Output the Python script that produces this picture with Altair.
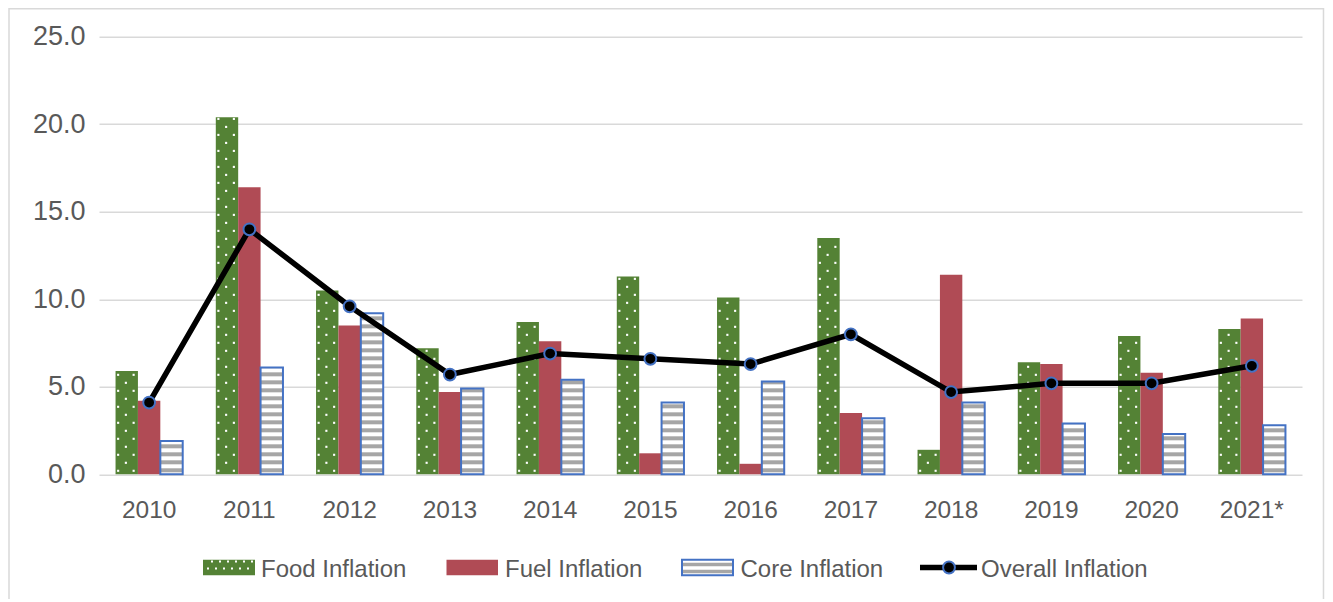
import altair as alt
import pandas as pd

# ---------------- data ----------------
years = ["2010", "2011", "2012", "2013", "2014", "2015", "2016", "2017",
         "2018", "2019", "2020", "2021*"]
food = [5.9, 20.4, 10.5, 7.2, 8.7, 11.3, 10.1, 13.5, 1.4, 6.4, 7.9, 8.3]
fuel = [4.2, 16.4, 8.5, 4.7, 7.6, 1.2, 0.6, 3.5, 11.4, 6.3, 5.8, 8.9]
core = [1.9, 6.1, 9.2, 4.9, 5.4, 4.1, 5.3, 3.2, 4.1, 2.9, 2.3, 2.8]
overall = [4.1, 14.0, 9.6, 5.7, 6.9, 6.6, 6.3, 8.0, 4.7, 5.2, 5.2, 6.2]
series = ["Food Inflation", "Fuel Inflation", "Core Inflation", "Overall Inflation"]
y_ticks = [0, 5, 10, 15, 20, 25]

bar_df = pd.DataFrame({
    "year": years * 3,
    "series": [s for s in series[:3] for _ in years],
    "value": food + fuel + core,
})
line_df = pd.DataFrame({"year": years, "series": series[3], "value": overall})
one = pd.DataFrame({"k": [0]})

# ---------------- styles ----------------
FONT = "Liberation Sans"
TXT = "#595959"
GRID = "#d9d9d9"
GREEN = "#548235"
RED = "#B04B55"
BLUE = "#4472C4"
STRIPE = "#A6A6A6"
FS = 24

yscale = alt.Scale(domain=[0, 25], nice=False, zero=True)
yaxis = alt.Axis(values=y_ticks, format=".1f", title=None, domain=False, ticks=False,
                 grid=True, gridColor=GRID, gridWidth=1.5, labelFont=FONT,
                 labelFontSize=27, labelColor=TXT, labelPadding=14)
xscale = alt.Scale(domain=years, paddingInner=0.33, paddingOuter=0.165)
xaxis = alt.Axis(title=None, labelAngle=0, domain=False, ticks=False, grid=False,
                 labelPadding=24, labelFont=FONT, labelFontSize=24.5, labelColor=TXT)


def X():
    return alt.X("year:N", scale=xscale, axis=xaxis)


def Y(field):
    return alt.Y(f"{field}:Q", scale=yscale, axis=yaxis)


def XO():
    return alt.XOffset("series:N", scale=alt.Scale(domain=series[:3], paddingInner=0, paddingOuter=0))


# ---------------- chart frame ----------------
frame = alt.Chart(one).mark_rect(fillOpacity=0, stroke=GRID, strokeWidth=1.5).encode(
    x=alt.value(-90), x2=alt.value(1224.5), y=alt.value(-28), y2=alt.value(600))

# ---------------- bars ----------------
bars = alt.Chart(bar_df).mark_bar().encode(
    x=X(), xOffset=XO(), y=Y("value"),
    color=alt.Color("series:N", scale=alt.Scale(domain=series[:3], range=[GREEN, RED, "#FFFFFF"]),
                    legend=None))

# white dot pattern on food bars (rows alternate between two offsets)
dots = (
    alt.Chart(bar_df)
    .transform_filter(alt.datum.series == series[0])
    .transform_calculate(rows="sequence(0.2, datum.value - 0.08, 0.457)")
    .transform_flatten(["rows"])
    .transform_calculate(par="round((datum.rows - 0.2) / 0.457) % 2")
    .transform_calculate(cols="datum.par == 0 ? [1, 7] : [4]")
    .transform_flatten(["cols"])
    .mark_square(size=4.5, color="white", opacity=1, strokeWidth=0)
    .encode(
        x=X(),
        xOffset=alt.XOffset("cols:N", scale=alt.Scale(domain=list(range(27)), paddingInner=0, paddingOuter=0)),
        y=Y("rows"),
    )
)

# grey stripes on core bars
stripes = (
    alt.Chart(bar_df)
    .transform_filter(alt.datum.series == series[2])
    .transform_calculate(s="sequence(0, datum.value, 0.457)")
    .transform_flatten(["s"])
    .transform_calculate(y0="datum.s + 0.114", y1="min(datum.s + 0.343, datum.value - 0.03)")
    .transform_filter("datum.y1 > datum.y0")
    .mark_bar(color=STRIPE)
    .encode(x=X(), xOffset=XO(), y=Y("y0"), y2="y1:Q")
)

outline = (
    alt.Chart(bar_df)
    .transform_filter(alt.datum.series == series[2])
    .mark_bar(fillOpacity=0, stroke=BLUE, strokeWidth=2)
    .encode(x=X(), xOffset=XO(), y=Y("value"))
)

# ---------------- overall line ----------------
line = alt.Chart(line_df).mark_line(color="black", strokeWidth=5.5).encode(x=X(), y=Y("value"))
points = alt.Chart(line_df).mark_circle(size=140, color="black", opacity=1, stroke=BLUE,
                                        strokeWidth=2).encode(x=X(), y=Y("value"))

# ---------------- legend ----------------
LY = 530.7
TY = LY + 2.5
leg = []
# Food
leg.append(alt.Chart(one).mark_rect(color=GREEN).encode(
    x=alt.value(104), x2=alt.value(156), y=alt.value(LY - 7.7), y2=alt.value(LY + 7.7)))
leg.append(alt.Chart(one).mark_rule(color="white", strokeWidth=2, strokeDash=[2, 6]).encode(
    x=alt.value(108), x2=alt.value(156), y=alt.value(LY + 1)))
leg.append(alt.Chart(one).mark_rule(color="white", strokeWidth=2, strokeDash=[2, 6],
                                    strokeDashOffset=4).encode(
    x=alt.value(108), x2=alt.value(156), y=alt.value(LY - 6)))
leg.append(alt.Chart(one).mark_text(align="left", baseline="middle", font=FONT, fontSize=FS,
                                    color=TXT).encode(
    x=alt.value(162), y=alt.value(TY), text=alt.value(series[0])))
# Fuel
leg.append(alt.Chart(one).mark_rect(color=RED).encode(
    x=alt.value(347.5), x2=alt.value(399), y=alt.value(LY - 7.7), y2=alt.value(LY + 7.7)))
leg.append(alt.Chart(one).mark_text(align="left", baseline="middle", font=FONT, fontSize=FS,
                                    color=TXT).encode(
    x=alt.value(406), y=alt.value(TY), text=alt.value(series[1])))
# Core
leg.append(alt.Chart(one).mark_rect(color="white", stroke=BLUE, strokeWidth=2).encode(
    x=alt.value(583), x2=alt.value(634), y=alt.value(LY - 7.7), y2=alt.value(LY + 7.7)))
leg.append(alt.Chart(one).mark_rule(color=STRIPE, strokeWidth=3.5).encode(
    x=alt.value(584), x2=alt.value(633), y=alt.value(LY - 3)))
leg.append(alt.Chart(one).mark_rule(color=STRIPE, strokeWidth=3.5).encode(
    x=alt.value(584), x2=alt.value(633), y=alt.value(LY + 4)))
leg.append(alt.Chart(one).mark_text(align="left", baseline="middle", font=FONT, fontSize=FS,
                                    color=TXT).encode(
    x=alt.value(641.5), y=alt.value(TY), text=alt.value(series[2])))
# Overall
leg.append(alt.Chart(one).mark_rule(color="black", strokeWidth=5.5).encode(
    x=alt.value(821), x2=alt.value(878), y=alt.value(LY)))
leg.append(alt.Chart(one).mark_circle(size=140, color="black", opacity=1, stroke=BLUE,
                                      strokeWidth=2).encode(x=alt.value(850), y=alt.value(LY)))
leg.append(alt.Chart(one).mark_text(align="left", baseline="middle", font=FONT, fontSize=FS,
                                    color=TXT).encode(
    x=alt.value(882), y=alt.value(TY), text=alt.value(series[3])))

chart = (
    alt.layer(frame, bars, dots, stripes, outline, line, points, *leg)
    .resolve_scale(xOffset="independent")
    .properties(
        width=1203, height=437.5,
        autosize=alt.AutoSizeParams(type="none"),
        padding={"left": 91, "top": 28.8, "right": 23, "bottom": 125},
        background="white",
    )
    .configure_view(stroke=None)
)

chart.save("out.html", embed_options={"renderer": "svg", "actions": False})
